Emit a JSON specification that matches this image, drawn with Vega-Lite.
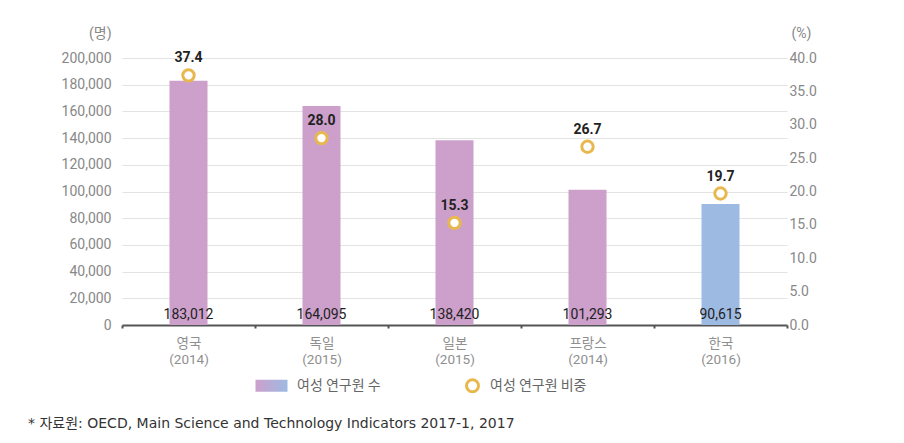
{
  "$schema": "https://vega.github.io/schema/vega-lite/v6.json",
  "width": 665,
  "height": 267,
  "autosize": {"type": "none"},
  "padding": {"left": 122, "top": 58, "right": 117, "bottom": 118},
  "background": "white",
  "config": {
    "view": {"stroke": null},
    "font": "Roboto, Noto Sans CJK KR",
    "axis": {"labelFont": "Roboto, Noto Sans CJK KR", "titleFont": "Roboto, Noto Sans CJK KR"},
    "legend": {"labelFont": "Noto Sans CJK KR"}
  },
  "title": {
    "text": "* 자료원: OECD, Main Science and Technology Indicators 2017-1, 2017",
    "orient": "bottom",
    "anchor": "start",
    "frame": "group",
    "dx": -94,
    "offset": 19,
    "font": "DejaVu Sans, Noto Sans CJK KR",
    "fontSize": 14,
    "fontWeight": "normal",
    "color": "#333333"
  },
  "data": {
    "values": [
      {"국가": "영국 (2014)", "여성연구원수": 183012, "비중": 37.4, "구분": "기타"},
      {"국가": "독일 (2015)", "여성연구원수": 164095, "비중": 28.0, "구분": "기타"},
      {"국가": "일본 (2015)", "여성연구원수": 138420, "비중": 15.3, "구분": "기타"},
      {"국가": "프랑스 (2014)", "여성연구원수": 101293, "비중": 26.7, "구분": "기타"},
      {"국가": "한국 (2016)", "여성연구원수": 90615, "비중": 19.7, "구분": "한국"}
    ]
  },
  "encoding": {
    "x": {
      "field": "국가",
      "type": "nominal",
      "sort": null,
      "scale": {"paddingInner": 0, "paddingOuter": 0},
      "axis": {
        "title": null,
        "labelExpr": "split(datum.label, ' ')",
        "labelColor": "#8f8f8f",
        "labelFontSize": 13.5,
        "labelPadding": 8,
        "labelAngle": 0,
        "labelLineHeight": 16,
        "domainColor": "#555555",
        "domainWidth": 2,
        "ticks": true,
        "tickBand": "extent",
        "tickColor": "#555555",
        "tickSize": 3,
        "tickWidth": 2,
        "grid": false
      }
    }
  },
  "layer": [
    {
      "layer": [
        {
          "mark": {"type": "bar", "width": 38},
          "encoding": {
            "y": {
              "field": "여성연구원수",
              "type": "quantitative",
              "scale": {"domain": [0, 200000]},
              "axis": {
                "orient": "left",
                "values": [0, 20000, 40000, 60000, 80000, 100000, 120000, 140000, 160000, 180000, 200000],
                "labelExpr": "format(datum.value, ',')",
                "labelOverlap": false,
                "labelColor": "#888888",
                "labelFontSize": 14,
                "labelPadding": 11,
                "domain": false,
                "ticks": false,
                "grid": true,
                "gridColor": "#e3e3e3",
                "title": "(명)",
                "titleAngle": 0,
                "titleAlign": "right",
                "titleBaseline": "middle",
                "titleX": -11,
                "titleY": -25,
                "titleColor": "#888888",
                "titleFontWeight": "normal",
                "titleFontSize": 14
              }
            },
            "color": {
              "field": "구분",
              "type": "nominal",
              "scale": {
                "domain": ["여성 연구원 수", "여성 연구원 비중", "기타", "한국"],
                "range": [
                  {"expr": "{gradient: 'linear', stops: [{offset: 0, color: '#cda0cc'}, {offset: 1, color: '#9dbae2'}]}"},
                  "#ffffff",
                  "#cda0cc",
                  "#9dbae2"
                ]
              },
              "legend": {
                "orient": "none",
                "legendX": 132,
                "legendY": 310,
                "direction": "horizontal",
                "title": null,
                "values": ["여성 연구원 수", "여성 연구원 비중"],
                "symbolSize": 1024,
                "symbolType": "M-1,-0.375H1V0.375H-1Z",
                "labelFontSize": 14,
                "labelColor": "#666666",
                "labelOffset": 8,
                "columnPadding": 66,
                "encode": {
                  "symbols": {
                    "update": {
                      "shape": {"signal": "datum.value === '여성 연구원 수' ? 'M-1,-0.375H1V0.375H-1Z' : 'M0.875,0A0.375,0.375,0,1,1,0.125,0A0.375,0.375,0,1,1,0.875,0Z'"},
                      "size": {"value": 1024},
                      "stroke": {"signal": "datum.value === '여성 연구원 수' ? 'transparent' : '#e8b84e'"},
                      "strokeWidth": {"value": 3},
                      "opacity": {"value": 1}
                    }
                  }
                }
              }
            }
          }
        },
        {
          "mark": {"type": "text", "baseline": "bottom", "dy": -3, "fontSize": 14, "color": "#222222"},
          "encoding": {
            "y": {
              "datum": 0,
              "type": "quantitative",
              "scale": {"domain": [0, 200000]},
              "axis": {
                "orient": "left",
                "values": [0, 20000, 40000, 60000, 80000, 100000, 120000, 140000, 160000, 180000, 200000],
                "labelExpr": "format(datum.value, ',')",
                "labelOverlap": false,
                "labelColor": "#888888",
                "labelFontSize": 14,
                "labelPadding": 11,
                "domain": false,
                "ticks": false,
                "grid": true,
                "gridColor": "#e3e3e3",
                "title": "(명)",
                "titleAngle": 0,
                "titleAlign": "right",
                "titleBaseline": "middle",
                "titleX": -11,
                "titleY": -25,
                "titleColor": "#888888",
                "titleFontWeight": "normal",
                "titleFontSize": 14
              }
            },
            "text": {"field": "여성연구원수", "type": "quantitative", "format": ","}
          }
        }
      ]
    },
    {
      "layer": [
        {
          "mark": {"type": "point", "filled": false, "fill": "white", "stroke": "#e8b84e", "strokeWidth": 3, "size": 130, "opacity": 1},
          "encoding": {
            "y": {
              "field": "비중",
              "type": "quantitative",
              "scale": {"domain": [0, 40]},
              "axis": {
                "orient": "right",
                "values": [0, 5, 10, 15, 20, 25, 30, 35, 40],
                "format": ".1f",
                "labelOverlap": false,
                "labelColor": "#888888",
                "labelFontSize": 14,
                "labelPadding": 2,
                "domain": false,
                "ticks": false,
                "grid": false,
                "title": "(%)",
                "titleAngle": 0,
                "titleAlign": "left",
                "titleBaseline": "middle",
                "titleX": 4,
                "titleY": -25,
                "titleColor": "#888888",
                "titleFontWeight": "normal",
                "titleFontSize": 14
              }
            }
          }
        },
        {
          "mark": {"type": "text", "baseline": "bottom", "dy": -10, "fontSize": 14, "fontWeight": "bold", "color": "#222222"},
          "encoding": {
            "y": {
              "field": "비중",
              "type": "quantitative",
              "scale": {"domain": [0, 40]},
              "axis": {
                "orient": "right",
                "values": [0, 5, 10, 15, 20, 25, 30, 35, 40],
                "format": ".1f",
                "labelOverlap": false,
                "labelColor": "#888888",
                "labelFontSize": 14,
                "labelPadding": 2,
                "domain": false,
                "ticks": false,
                "grid": false,
                "title": "(%)",
                "titleAngle": 0,
                "titleAlign": "left",
                "titleBaseline": "middle",
                "titleX": 4,
                "titleY": -25,
                "titleColor": "#888888",
                "titleFontWeight": "normal",
                "titleFontSize": 14
              }
            },
            "text": {"field": "비중", "type": "quantitative", "format": ".1f"}
          }
        }
      ]
    }
  ],
  "resolve": {"scale": {"y": "independent"}}
}
